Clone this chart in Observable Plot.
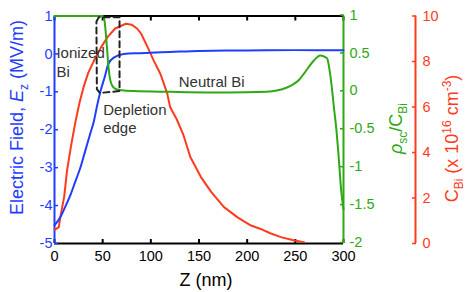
<!DOCTYPE html>
<html><head><meta charset="utf-8">
<script src="https://cdn.jsdelivr.net/npm/d3@7"></script>
<script src="https://cdn.jsdelivr.net/npm/@observablehq/plot@0.6"></script>
<style>body{margin:0;background:#fff} svg{display:block}</style>
</head><body><div id="chart"></div>
<script>
// Electric field E_z (MV/m) vs Z (nm)
const zField = [0, 6, 11, 17, 22, 27, 32, 37, 41, 44, 48, 52, 56, 62, 72, 89, 120, 150, 200, 250, 300];
const field  = [-4.52, -4.31, -4.04, -3.69, -3.34, -2.99, -2.55, -2.11, -1.76, -1.39, -0.96, -0.62, -0.26, -0.09, 0.0, 0.02, 0.05, 0.08, 0.09, 0.10, 0.10];
// Bi concentration C_Bi (x1e16 cm^-3)
const zConc = [0, 4.5, 6, 10, 13, 17, 20, 22, 26, 30, 35, 41, 48, 55, 63, 74, 80, 86, 90, 97, 103, 110, 117, 120, 127, 134, 141, 152, 163, 176, 190, 204, 214, 224, 235, 248, 259];
const conc  = [0.6, 0.72, 1.16, 2.04, 3.2, 4.25, 4.95, 5.4, 6.2, 6.85, 7.5, 8.04, 8.6, 9.07, 9.45, 9.66, 9.62, 9.44, 9.22, 8.6, 8.04, 7.45, 6.6, 6.0, 5.45, 4.75, 3.8, 2.92, 2.25, 1.6, 1.15, 0.79, 0.64, 0.45, 0.28, 0.14, 0.06];
// Space charge rho_sc / C_Bi
const zRho = [0, 50, 51.5, 53, 54.7, 56.4, 58, 60, 62, 65, 70, 82, 120, 180, 220, 232, 240, 248, 254, 259, 264, 269, 273, 276, 279, 283, 285, 287.5, 290, 293, 295, 297.6, 300];
const rho  = [1, 1, 0.97, 0.81, 0.545, 0.28, 0.15, 0.08, 0.05, 0.03, 0.02, 0.01, 0.0, -0.01, 0.0, 0.02, 0.05, 0.1, 0.16, 0.24, 0.33, 0.41, 0.46, 0.48, 0.47, 0.44, 0.33, 0.1, -0.2, -0.55, -0.86, -1.3, -1.55];
// Dashed depletion-edge outline
const boxZ = [43.5, 46, 67.5, 67.5, 47, 44, 43.5];
const boxE = [0.85, 0.97, 0.97, -0.98, -1.03, -0.93, 0.85];
// Annotations
const noteText = ["Ionized\nBi", "Depletion\nedge", "Neutral Bi"];
const noteZ = [2, 50.5, 129];
const noteE = [-0.2, -1.69, -0.706];
// Ticks
const xTicks = [0, 50, 100, 150, 200, 250, 300];
const eTicks = [1, 0, -1, -2, -3, -4, -5];
const rhoTicks = [1, 0.5, 0, -0.5, -1, -1.5, -2];
const concTicks = [0, 2, 4, 6, 8, 10];

const blue = "#1f3dff", green = "#2fa814", red = "#ff3b1c";
const font = "'Liberation Sans', Arial, Helvetica, sans-serif";
const rho2E = g => -5 + (g + 2) * 2;
const conc2E = c => -5 + c * 0.6;
const redDx = 72;
const tickFont = 14.5;

const fieldData = zField.map((z, i) => ({z, v: field[i]}));
const concData = zConc.map((z, i) => ({z, v: conc2E(conc[i])}));
const rhoData = zRho.map((z, i) => ({z, v: rho2E(rho[i])}));
const boxData = boxZ.map((z, i) => ({z, v: boxE[i]}));
const notes = noteText.map((t, i) => ({t, z: noteZ[i], v: noteE[i]}));

const plot = Plot.plot({
  width: 468, height: 292,
  marginLeft: 54, marginRight: 125, marginTop: 15.5, marginBottom: 49,
  x: {domain: [0, 300], axis: null, label: null},
  y: {domain: [-5, 1], axis: null, label: null},
  style: {fontFamily: font, fontSize: "15px", background: "white", overflow: "visible"},
  marks: [
    Plot.ruleY([-5, 1], {stroke: "black", strokeWidth: 2}),
    Plot.axisX(xTicks, {anchor: "bottom", tickSize: -4, tickPadding: 11, tickFormat: d => String(d), fontSize: tickFont, color: "black", strokeWidth: 2, label: null}),
    Plot.axisX(xTicks, {anchor: "top", tickSize: -4, tickFormat: () => "", color: "black", strokeWidth: 2, label: null}),
    Plot.axisY(eTicks, {anchor: "left", tickSize: -4, tickPadding: 6, tickFormat: d => String(d), color: blue, fontSize: tickFont, strokeWidth: 1.5, label: null}),
    Plot.axisY(rhoTicks, {y: rho2E, anchor: "right", tickSize: -4, tickPadding: 10, dy: -1, tickFormat: d => String(d), color: green, fontSize: tickFont, strokeWidth: 1.5, label: null}),
    Plot.axisY(concTicks, {y: conc2E, anchor: "right", dx: redDx, tickSize: -4, tickPadding: 11, tickFormat: d => String(d), color: red, fontSize: tickFont, strokeWidth: 1.5, label: null}),
    Plot.ruleX([0], {stroke: blue, strokeWidth: 2}),
    Plot.ruleX([300], {stroke: green, strokeWidth: 2}),
    Plot.ruleX([300], {dx: redDx, stroke: red, strokeWidth: 2}),
    Plot.line(concData, {x: "z", y: "v", stroke: red, strokeWidth: 2}),
    Plot.line(fieldData, {x: "z", y: "v", stroke: blue, strokeWidth: 2, curve: "monotone-x"}),
    Plot.line(rhoData, {x: "z", y: "v", stroke: green, strokeWidth: 2, curve: "monotone-x"}),
    Plot.line(boxData, {x: "z", y: "v", stroke: "#222", strokeWidth: 2, strokeDasharray: "6,4"}),
    Plot.text(notes, {x: "z", y: "v", text: "t", textAnchor: "start", lineAnchor: "middle", lineHeight: 1.22, fill: "#333", fontSize: 15})
  ]
});
document.getElementById("chart").appendChild(plot);

const svg = d3.select(plot);
function addTitle(x, y, color, parts) {
  const t = svg.append("text")
    .attr("transform", `translate(${x},${y}) rotate(-90)`)
    .attr("text-anchor", "middle")
    .attr("fill", color)
    .style("font-family", font)
    .style("font-size", "18px");
  let shift = 0;
  parts.forEach(p => {
    const ts = t.append("tspan").text(p.t);
    let target = 0;
    if (p.sub) { target = 5; ts.style("font-size", "12px"); }
    if (p.sup) { target = -7; ts.style("font-size", "12px"); }
    if (p.it) ts.style("font-style", "italic");
    ts.attr("dy", target - shift);
    shift = target;
  });
}
addTitle(23, 117.5, blue, [{t: "Electric Field, "}, {t: "E", it: true}, {t: "z", sub: true}, {t: " (MV/m)"}]);
addTitle(402, 128.5, green, [{t: "ρ", it: true}, {t: "sc", sub: true}, {t: "/C"}, {t: "Bi", sub: true}]);
addTitle(458, 138.5, red, [{t: "C"}, {t: "Bi", sub: true}, {t: " (x 10"}, {t: "16", sup: true}, {t: " cm"}, {t: "-3", sup: true}, {t: ")"}]);
svg.append("text")
  .attr("x", 206).attr("y", 286)
  .attr("text-anchor", "middle")
  .attr("fill", "black")
  .style("font-family", font)
  .style("font-size", "18px")
  .text("Z (nm)");
</script>
</body></html>
